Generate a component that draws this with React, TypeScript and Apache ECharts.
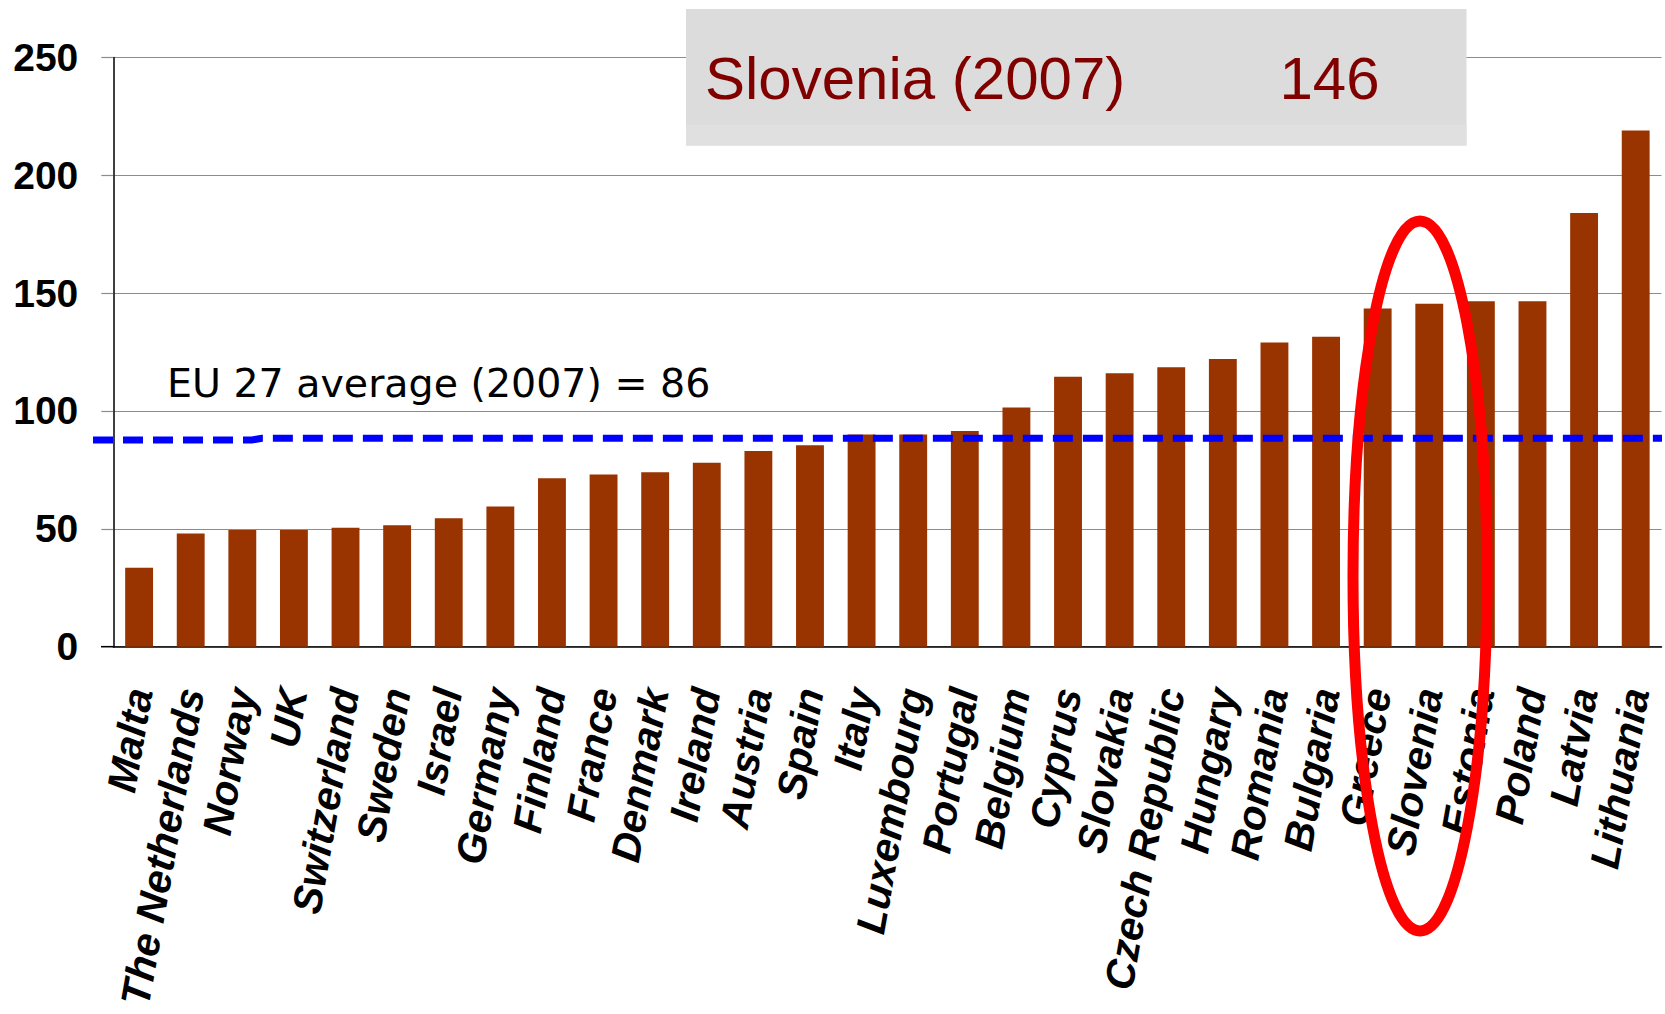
import React, { useEffect, useRef } from "react";
import * as echarts from "echarts";

const categories = [
  "Malta", "The Netherlands", "Norway", "UK", "Switzerland", "Sweden", "Israel",
  "Germany", "Finland", "France", "Denmark", "Ireland", "Austria", "Spain", "Italy",
  "Luxembourg", "Portugal", "Belgium", "Cyprus", "Slovakia", "Czech Republic",
  "Hungary", "Romania", "Bulgaria", "Greece", "Slovenia", "Estonia", "Poland",
  "Latvia", "Lithuania",
];
const values = [
  33.5, 48, 49.5, 49.5, 50.5, 51.5, 54.5, 59.5, 71.5, 73, 74, 78, 83, 85.5, 90,
  90, 91.5, 101.5, 114.5, 116, 118.5, 122, 129, 131.5, 143.5, 145.5, 146.5, 146.5,
  184, 219,
];
const yTicks = { min: 0, max: 250, interval: 50 };
const EU_LABEL = "EU 27 average (2007) = 86";
const EU_LINE_LEFT = 87.7;
const EU_LINE_RIGHT = 88.4;
const TITLE_NAME = "Slovenia (2007)";
const TITLE_VALUE = "146";

export default function App() {
  const ref = useRef<HTMLDivElement>(null);
  useEffect(() => {
    const chart = echarts.init(ref.current!, null, { renderer: "svg" });
    chart.setOption({
      animation: false,
      backgroundColor: "#ffffff",
      grid: { left: 113.3, right: 3.5, top: 57.4, bottom: 367.3, containLabel: false },
      xAxis: {
        type: "category",
        data: categories,
        axisLine: { lineStyle: { color: "#000", width: 1.5 } },
        axisTick: { show: false },
        axisLabel: {
          interval: 0,
          rotate: 80,
          margin: 42,
          color: "#000",
          fontFamily: "Liberation Sans",
          fontWeight: "bold",
          fontStyle: "italic",
          fontSize: 41,
        },
      },
      yAxis: {
        type: "value",
        min: yTicks.min,
        max: yTicks.max,
        interval: yTicks.interval,
        axisLine: { show: true, lineStyle: { color: "#000", width: 1.5 } },
        axisTick: { show: true, length: 12, lineStyle: { color: "#8c8c8c", width: 1.2 } },
        splitLine: { lineStyle: { color: "#8c8c8c", width: 1.2 } },
        axisLabel: {
          margin: 35,
          color: "#000",
          fontFamily: "Liberation Sans",
          fontWeight: "bold",
          fontSize: 39,
        },
      },
      series: [
        {
          type: "bar",
          data: values,
          barWidth: "54%",
          itemStyle: { color: "#993300" },
        },
      ],
    });
    const yL = chart.convertToPixel({ yAxisIndex: 0 }, EU_LINE_LEFT) as number;
    const yR = chart.convertToPixel({ yAxisIndex: 0 }, EU_LINE_RIGHT) as number;
    const y0 = chart.convertToPixel({ yAxisIndex: 0 }, 0) as number;
    chart.setOption({
      graphic: [
        {
          type: "line",
          z: 5,
          shape: { x1: 101, y1: y0, x2: 114, y2: y0 },
          style: { stroke: "#000", lineWidth: 1.5 },
        },
        {
          type: "rect",
          z: 10,
          shape: { x: 686, y: 9, width: 780.5, height: 136.5 },
          style: { fill: "#DCDCDC" },
        },
        {
          type: "rect",
          z: 11,
          shape: { x: 686, y: 125, width: 780.5, height: 20.5 },
          style: { fill: "#E0E0E0" },
        },
        {
          type: "text",
          z: 12,
          x: 705,
          y: 78,
          style: {
            text: TITLE_NAME,
            fill: "#800000",
            font: '60px "Liberation Sans"',
            verticalAlign: "middle",
            align: "left",
          },
        },
        {
          type: "text",
          z: 12,
          x: 1279.5,
          y: 78,
          style: {
            text: TITLE_VALUE,
            fill: "#800000",
            font: '60px "Liberation Sans"',
            verticalAlign: "middle",
            align: "left",
          },
        },
        {
          type: "text",
          z: 12,
          x: 167,
          y: 383.2,
          style: {
            text: EU_LABEL,
            fill: "#000",
            font: '39.5px "DejaVu Sans"',
            verticalAlign: "middle",
            align: "left",
          },
        },
        {
          type: "polyline",
          z: 50,
          shape: { points: [[93, yL], [252, yL], [262, yR], [1662, yR]] },
          style: { stroke: "#0000FF", lineWidth: 7, lineDash: [20, 10], fill: "none" },
        },
        {
          type: "ellipse",
          z: 100,
          shape: { cx: 1420, cy: 576, rx: 67, ry: 355 },
          style: { fill: "none", stroke: "#FF0000", lineWidth: 11 },
        },
      ],
    });
    return () => chart.dispose();
  }, []);
  return (
    <div
      ref={ref}
      style={{ position: "absolute", left: 0, top: 0, width: 1665, height: 1014 }}
    />
  );
}
